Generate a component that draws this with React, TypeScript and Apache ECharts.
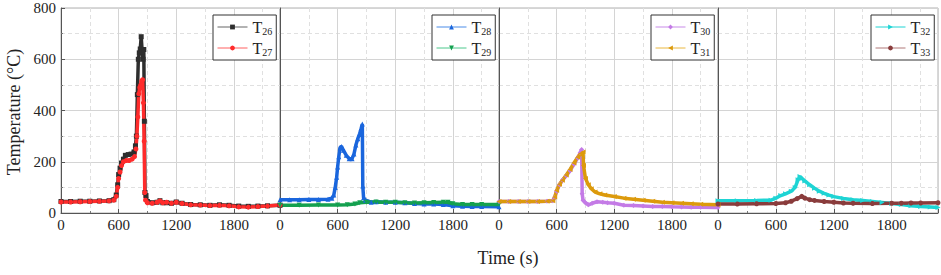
import React, { useEffect, useRef } from "react";
import * as echarts from "echarts";

// Tick values
const xTicks = [0, 600, 1200, 1800];
const yTicks = [0, 200, 400, 600, 800];

// Series: [time (s), temperature (°C)]
const T26: number[][] = [[0,45],[100,45],[200,46],[300,46],[400,47],[500,48],[550,52],[575,70],[590,110],[600,150],[615,175],[630,195],[650,210],[670,225],[700,228],[730,230],[760,238],[775,262],[785,300],[795,462],[805,600],[815,625],[825,640],[835,688],[845,630],[855,600],[862,638],[868,358],[874,80],[885,68],[900,45],[950,40],[1000,42],[1030,48],[1060,40],[1100,40],[1150,38],[1200,43],[1260,38],[1350,33],[1450,32],[1550,30],[1650,32],[1750,30],[1850,27],[1950,26],[2050,27],[2150,28],[2280,30]];
const T27: number[][] = [[0,43],[100,43],[200,44],[300,45],[400,46],[500,47],[550,50],[575,65],[590,100],[600,135],[615,160],[630,185],[650,200],[680,205],[710,205],[740,210],[765,220],[780,250],[790,300],[800,375],[810,465],[820,490],[830,500],[840,515],[850,520],[858,430],[866,280],[872,80],[880,50],[900,40],[950,38],[1000,42],[1030,47],[1060,40],[1100,42],[1150,38],[1200,42],[1260,37],[1350,32],[1450,31],[1550,29],[1650,30],[1750,28],[1850,24],[1950,23],[2050,25],[2150,27],[2280,31]];
const T28: number[][] = [[0,52],[100,52],[200,52],[300,53],[400,53],[500,54],[540,58],[560,70],[575,100],[590,140],[600,180],[612,220],[625,255],[640,260],[660,245],[690,225],[720,212],[750,212],[770,230],[790,265],[810,290],[830,310],[845,330],[857,347],[862,105],[870,60],[890,50],[950,42],[1000,44],[1100,42],[1200,42],[1300,40],[1400,37],[1500,35],[1600,35],[1700,33],[1800,28],[1900,26],[2000,25],[2100,25],[2280,24]];
const T29: number[][] = [[0,30],[200,30],[400,31],[600,31],[700,32],[780,35],[830,40],[900,42],[1000,43],[1100,42],[1200,42],[1300,40],[1400,39],[1500,40],[1600,41],[1700,42],[1750,42],[1800,36],[1900,33],[2000,33],[2100,33],[2280,33]];
const T30: number[][] = [[0,45],[100,45],[200,45],[300,45],[400,45],[500,46],[560,48],[580,60],[600,85],[630,110],[660,128],[700,145],[740,165],[780,190],[820,215],[845,235],[860,248],[866,75],[875,50],[900,40],[930,32],[970,38],[1020,44],[1080,42],[1130,40],[1200,38],[1300,30],[1400,29],[1500,27],[1600,25],[1700,25],[1800,24],[1900,23],[2000,22],[2100,22],[2280,21]];
const T31: number[][] = [[0,45],[100,45],[200,45],[300,45],[400,45],[500,46],[560,48],[580,62],[600,88],[630,112],[660,128],[700,148],[740,170],[780,195],[820,218],[850,232],[875,238],[880,185],[900,135],[930,110],[960,95],[1000,82],[1050,75],[1100,70],[1200,64],[1300,58],[1400,54],[1500,50],[1600,46],[1700,42],[1800,40],[1900,38],[2000,36],[2100,34],[2280,32]];
const T32: number[][] = [[0,48],[200,48],[400,49],[550,50],[600,58],[650,68],[700,75],[760,85],[800,100],[830,130],[850,142],[870,135],[900,125],[950,110],[1000,97],[1050,85],[1100,77],[1150,70],[1200,64],[1300,57],[1400,52],[1500,49],[1600,45],[1700,41],[1800,37],[1900,33],[2000,28],[2100,25],[2200,23],[2280,21]];
const T33: number[][] = [[0,35],[200,35],[400,36],[600,37],[700,40],[760,46],[820,56],[868,65],[900,58],[950,52],[1000,49],[1100,45],[1200,42],[1300,39],[1400,38],[1600,37],[1800,38],[1900,38],[2000,39],[2100,39],[2280,40]];

const panels = [
  [{ name: "26", data: T26, color: "#2e2e2e", line: "#666666", symbol: "rect", rot: 0 },
   { name: "27", data: T27, color: "#ff2b2b", line: "#ff6060", symbol: "circle", rot: 0 }],
  [{ name: "28", data: T28, color: "#1a66dd", line: "#4a8ce8", symbol: "triangle", rot: 0 },
   { name: "29", data: T29, color: "#14a04f", line: "#4cc88c", symbol: "triangle", rot: 180 }],
  [{ name: "30", data: T30, color: "#c47be6", line: "#c88be8", symbol: "diamond", rot: 0 },
   { name: "31", data: T31, color: "#dc9a0c", line: "#eab840", symbol: "triangle", rot: 90 }],
  [{ name: "32", data: T32, color: "#1fd4d4", line: "#1fd4d4", symbol: "triangle", rot: -90 },
   { name: "33", data: T33, color: "#8a3c3c", line: "#b07878", symbol: "circle", rot: 0 }],
];

const FONT = "Liberation Serif";
const lefts = [61, 280, 499, 718];
const widths = [219, 219, 219, 220];
const X_MAX = 2280;

export default function App() {
  const ref = useRef<HTMLDivElement>(null);
  useEffect(() => {
    document.body.style.margin = "0";
    const chart = echarts.init(ref.current!, null, { renderer: "svg" });
    const grids = lefts.map((l, i) => ({
      left: l, top: 8, width: widths[i], height: 205,
      show: true, borderColor: "#b0b0b0", borderWidth: 1,
    }));
    const labelStyle = { fontFamily: FONT, fontSize: 15, color: "#222", fontWeight: "normal" };
    const xAxis = lefts.map((_, i) => ({
      type: "value", gridIndex: i, min: 0, max: X_MAX, interval: 600,
      axisLine: { show: true, lineStyle: { color: "#555", width: 1 } },
      axisTick: { show: true, inside: true, length: 4, lineStyle: { color: "#555" } },
      minorTick: { show: true, splitNumber: 2, length: 2, lineStyle: { color: "#777" } },
      axisLabel: {
        ...labelStyle, margin: 4,
        formatter: (v: number) => (xTicks.includes(v) ? String(v) : ""),
        showMaxLabel: false,
      },
      splitLine: { show: true, lineStyle: { color: "#d4d4d4", width: 1 } },
      minorSplitLine: { show: true, lineStyle: { color: "#e0e0e0", type: [4, 3], width: 1 } },
    }));
    const yAxis = lefts.map((_, i) => ({
      type: "value", gridIndex: i, min: 0, max: 800, interval: 200,
      axisLine: { show: true, lineStyle: { color: "#555", width: 1 } },
      axisTick: { show: i === 0, inside: true, length: 4, lineStyle: { color: "#555" } },
      minorTick: { show: i === 0, splitNumber: 2, length: 2, lineStyle: { color: "#777" } },
      axisLabel: {
        show: i === 0, ...labelStyle, margin: 5,
        formatter: (v: number) => (yTicks.includes(v) ? String(v) : ""),
      },
      splitLine: { show: true, lineStyle: { color: "#d4d4d4", width: 1 } },
      minorSplitLine: { show: true, lineStyle: { color: "#e0e0e0", type: [4, 3], width: 1 } },
    }));
    const series: any[] = [];
    const legends: any[] = [];
    panels.forEach((p, i) => {
      p.forEach((s) => {
        series.push({
          type: "line", name: "T" + s.name, xAxisIndex: i, yAxisIndex: i,
          data: s.data, symbol: s.symbol, symbolRotate: s.rot, symbolSize: 5,
          showSymbol: true,
          itemStyle: { color: s.color },
          lineStyle: { color: s.color, width: 3.5 },
          emphasis: { disabled: true },
        });
      });
      legends.push({
        orient: "vertical",
        left: lefts[i] + widths[i] - 8 - 59,
        top: 15,
        padding: [3, 4, 3, 4],
        itemGap: 3,
        itemWidth: 30,
        itemHeight: 6,
        borderColor: "#333",
        borderWidth: 1,
        backgroundColor: "#fff",
        data: p.map((s) => ({
          name: "T" + s.name,
          itemStyle: { color: s.color },
          lineStyle: { color: s.line, width: 1 },
        })),
        formatter: (n: string) => `{t|T}{s|${n.slice(1)}}`,
        textStyle: {
          fontFamily: FONT, color: "#222",
          rich: {
            t: { fontFamily: FONT, fontSize: 16, color: "#222", lineHeight: 20 },
            s: { fontFamily: FONT, fontSize: 10, color: "#222", padding: [8, 0, 0, 0], lineHeight: 20 },
          },
        },
      });
    });
    chart.setOption({
      animation: false,
      backgroundColor: "#fff",
      textStyle: { fontFamily: FONT },
      grid: grids,
      xAxis,
      yAxis,
      legend: legends,
      series,
      graphic: [
        {
          type: "text",
          rotation: Math.PI / 2,
          x: 14, y: 112,
          style: { text: "Temperature (°C)", font: `18px ${FONT}`, fill: "#222", textAlign: "center", textVerticalAlign: "middle" },
        },
        {
          type: "text", x: 508, y: 258,
          style: { text: "Time (s)", font: `18px ${FONT}`, fill: "#222", textAlign: "center", textVerticalAlign: "middle" },
        },
      ],
    });
    return () => chart.dispose();
  }, []);
  return <div ref={ref} style={{ width: 941, height: 275 }} />;
}
